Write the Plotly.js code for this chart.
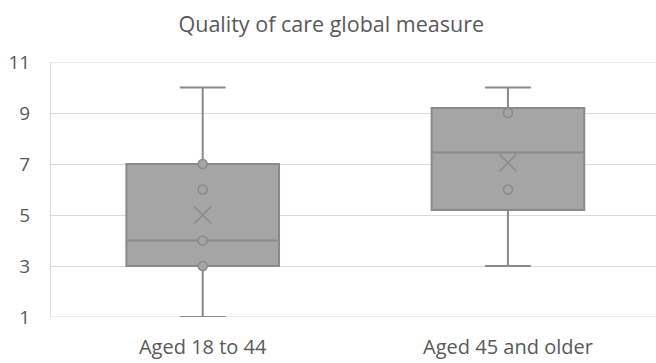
<!DOCTYPE html>
<html>
<head>
<meta charset="utf-8">
<script src="https://cdn.plot.ly/plotly-3.0.1.min.js"></script>
<style>
  html, body { margin: 0; padding: 0; background: #ffffff; }
  #chart { width: 656px; height: 363px; }
</style>
</head>
<body>
<div id="chart"></div>
<script>
// Age groups and their box statistics
const groups = ['Aged 18 to 44', 'Aged 45 and older'];
const lowerFence = [1, 3];
const q1 = [3, 5.2];
const median = [4, 7.45];
const q3 = [7, 9.2];
const upperFence = [10, 10];
const means = [5, 7.05];

// Individual responses shown inside the whiskers
const innerYoung = [7, 6, 4, 3];
const innerOlder = [9, 6];

const yTicks = [1, 3, 5, 7, 9, 11];

const textColor = '#595959';
const gridColor = '#d9d9d9';
const boxFill = '#a5a5a5';
const boxLine = '#8a8a8a';
const fontFamily = '"Open Sans", Lato, sans-serif';

const boxTrace = {
  type: 'box',
  x: groups,
  lowerfence: lowerFence,
  q1: q1,
  median: median,
  q3: q3,
  upperfence: upperFence,
  boxpoints: false,
  fillcolor: boxFill,
  line: { color: boxLine, width: 2 },
  width: 0.5,
  whiskerwidth: 0.3,
  hoverinfo: 'skip',
  showlegend: false
};

const pointX = innerYoung.map(() => groups[0]).concat(innerOlder.map(() => groups[1]));
const pointY = innerYoung.concat(innerOlder);

const pointsTrace = {
  type: 'scatter',
  mode: 'markers',
  x: pointX,
  y: pointY,
  marker: {
    symbol: 'circle',
    size: 9,
    color: boxFill,
    line: { color: boxLine, width: 1.6 }
  },
  hoverinfo: 'skip',
  showlegend: false
};

const meanTrace = {
  type: 'scatter',
  mode: 'markers',
  x: groups,
  y: means,
  marker: {
    symbol: 'x-thin-open',
    size: 17,
    color: boxLine,
    line: { color: boxLine, width: 1.6 }
  },
  hoverinfo: 'skip',
  showlegend: false
};

const layout = {
  width: 656,
  height: 363,
  paper_bgcolor: '#ffffff',
  plot_bgcolor: '#ffffff',
  margin: { l: 51, r: 0, t: 62, b: 46 },
  font: { family: fontFamily, color: textColor, size: 16 },
  title: {
    text: 'Quality of care global measure',
    font: { family: fontFamily, size: 21.5, color: textColor },
    x: 0.505,
    xanchor: 'center',
    xref: 'container',
    yref: 'container',
    y: 0.933,
    yanchor: 'middle'
  },
  xaxis: {
    type: 'category',
    range: [-0.497, 1.485],
    showgrid: false,
    zeroline: false,
    showline: false,
    ticks: 'outside',
    ticklen: 12,
    tickcolor: 'rgba(0,0,0,0)',
    tickfont: { family: fontFamily, size: 20, color: textColor }
  },
  yaxis: {
    range: [1, 11],
    tickvals: yTicks,
    showgrid: true,
    gridcolor: gridColor,
    gridwidth: 1,
    zeroline: false,
    showline: true,
    linecolor: gridColor,
    linewidth: 1,
    ticks: 'outside',
    ticklen: 16,
    tickcolor: 'rgba(0,0,0,0)',
    tickfont: { family: fontFamily, size: 19, color: textColor }
  },
  shapes: [
    { type: 'line', xref: 'paper', yref: 'y', x0: 0, x1: 1, y0: 1, y1: 1, line: { color: gridColor, width: 1 }, layer: 'below' },
    { type: 'line', xref: 'paper', yref: 'y', x0: 0, x1: 1, y0: 11, y1: 11, line: { color: gridColor, width: 1 }, layer: 'below' }
  ]
};

Plotly.newPlot('chart', [boxTrace, pointsTrace, meanTrace], layout, { staticPlot: true, displayModeBar: false });
</script>
</body>
</html>
